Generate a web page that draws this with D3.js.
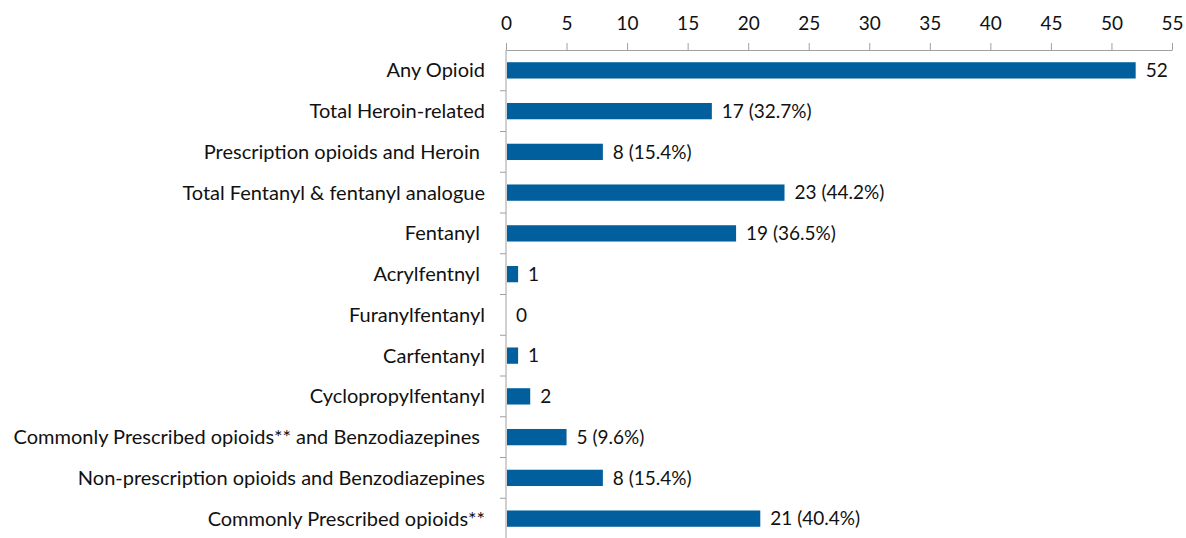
<!DOCTYPE html>
<html>
<head>
<meta charset="utf-8">
<script src="https://cdn.jsdelivr.net/npm/d3@7"></script>
<style>
  body { margin: 0; background: #fff; }
  svg text { font-family: Lato, "Open Sans", sans-serif; fill: #111; white-space: pre; }
</style>
</head>
<body>
<div id="chart"></div>
<script>
// categories, top to bottom
let categories = [
	"Any Opioid",
	"Total Heroin-related",
	"Prescription opioids and Heroin ",
	"Total Fentanyl & fentanyl analogue",
	"Fentanyl ",
	"Acrylfentnyl ",
	"Furanylfentanyl",
	"Carfentanyl",
	"Cyclopropylfentanyl",
	"Commonly Prescribed opioids** and Benzodiazepines ",
	"Non-prescription opioids and Benzodiazepines",
	"Commonly Prescribed opioids**"
];
let counts = [52, 17, 8, 23, 19, 1, 0, 1, 2, 5, 8, 21];
let valueLabels = ["52", "17 (32.7%)", "8 (15.4%)", "23 (44.2%)", "19 (36.5%)", "1", "0", "1", "2", "5 (9.6%)", "8 (15.4%)", "21 (40.4%)"];
let xTicks = [0, 5, 10, 15, 20, 25, 30, 35, 40, 45, 50, 55];

whenReady();

function whenReady() {
	let width = 1186, height = 538;
	let margin = {top: 50, right: 14, bottom: 0, left: 506};

	let svg = d3.select("#chart").append("svg")
		.attr("width", width)
		.attr("height", height);

	let x = d3.scaleLinear()
		.domain([0, 55])
		.range([margin.left, margin.left + 666]);

	let y = d3.scaleBand()
		.domain(categories)
		.range([margin.top, margin.top + 12 * 40.75])
		.paddingInner(0.6)
		.paddingOuter(0.3);

	// top axis
	let xAxis = svg.append("g")
		.attr("transform", "translate(0," + margin.top + ")")
		.call(d3.axisTop(x).tickValues(xTicks).tickSize(7).tickPadding(13).tickSizeOuter(0));
	xAxis.select(".domain").attr("stroke", "#a0a0a0");
	xAxis.selectAll(".tick line").attr("stroke", "#a0a0a0");
	xAxis.selectAll(".tick text")
		.style("font-size", "19px")
		.style("font-family", "Lato, sans-serif")
		.attr("fill", "#111");

	// left category axis, ticks between bars
	let step = y.step();
	let bounds = d3.range(categories.length + 1).map(i => margin.top + i * step);
	svg.append("line")
		.attr("x1", x(0)).attr("x2", x(0))
		.attr("y1", margin.top).attr("y2", height)
		.attr("stroke", "#a0a0a0");
	svg.selectAll(".ytick").data(bounds.slice(1)).enter().append("line")
		.attr("class", "ytick")
		.attr("x1", x(0) - 6).attr("x2", x(0))
		.attr("y1", d => d).attr("y2", d => d)
		.attr("stroke", "#a0a0a0");

	svg.selectAll(".cat").data(categories).enter().append("text")
		.attr("class", "cat")
		.attr("x", x(0) - 21)
		.attr("y", d => y(d) + y.bandwidth() / 2)
		.attr("dy", "0.35em")
		.attr("text-anchor", "end")
		.style("font-size", "20px")
		.text(d => d);

	// bars
	svg.selectAll(".bar").data(counts).enter().append("rect")
		.attr("class", "bar")
		.attr("x", x(0) + 1)
		.attr("y", (d, i) => y(categories[i]))
		.attr("width", d => Math.max(0, x(d) - x(0) - 1))
		.attr("height", y.bandwidth())
		.attr("fill", "#005f9c");

	// value labels
	svg.selectAll(".val").data(counts).enter().append("text")
		.attr("class", "val")
		.attr("x", d => x(d) + 10)
		.attr("y", (d, i) => y(categories[i]) + y.bandwidth() / 2)
		.attr("dy", "0.35em")
		.style("font-size", "19px")
		.text((d, i) => valueLabels[i]);
}
</script>
</body>
</html>
